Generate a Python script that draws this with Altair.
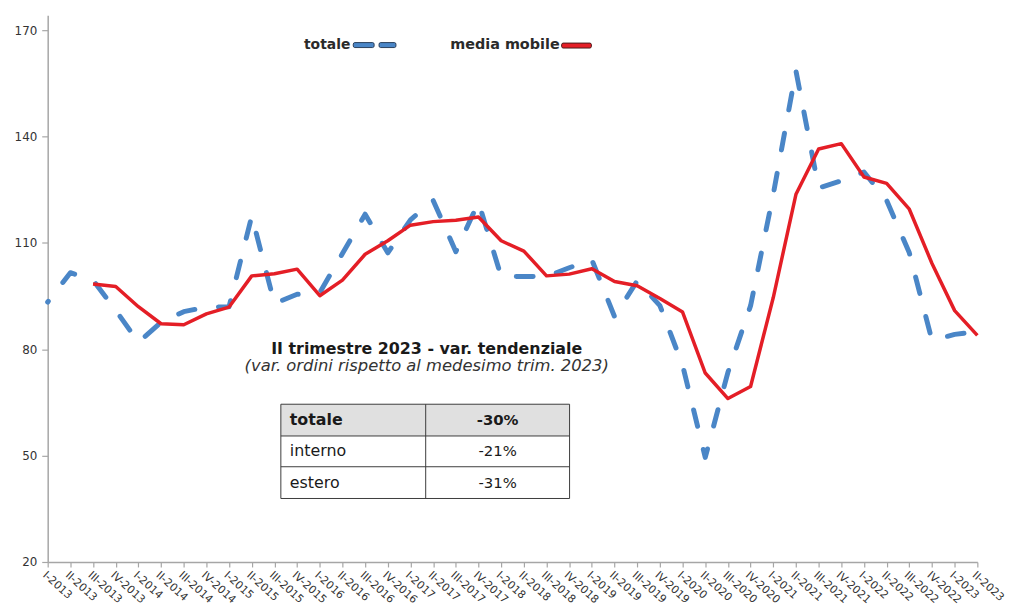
import math
import altair as alt
import pandas as pd

FONT = "DejaVu Sans"

periodi = [
    "I-2013", "II-2013", "III-2013", "IV-2013",
    "I-2014", "II-2014", "III-2014", "IV-2014",
    "I-2015", "II-2015", "III-2015", "IV-2015",
    "I-2016", "II-2016", "III-2016", "IV-2016",
    "I-2017", "II-2017", "III-2017", "IV-2017",
    "I-2018", "II-2018", "III-2018", "IV-2018",
    "I-2019", "II-2019", "III-2019", "IV-2019",
    "I-2020", "II-2020", "III-2020", "IV-2020",
    "I-2021", "II-2021", "III-2021", "IV-2021",
    "I-2022", "II-2022", "III-2022", "IV-2022",
    "I-2023", "II-2023",
]

totale = [
    93.3, 101.6, 99.5, 91.0,
    82.0, 87.6, 90.6, 91.9,
    92.0, 117.6, 92.9, 95.5,
    96.0, 107.0, 118.1, 107.2,
    116.5, 122.0, 107.5, 121.5,
    100.5, 100.5, 100.5, 103.0,
    105.2, 89.2, 99.3, 92.3,
    75.5, 49.5, 73.5, 92.3,
    123.7, 158.5, 125.5, 127.5,
    130.0, 122.0, 107.2, 82.5,
    84.2, 85.0,
]

media_mobile = [
    None, None, 98.4, 97.7,
    92.0, 87.2, 86.9, 90.0,
    91.9, 100.7, 101.3, 102.6,
    95.1, 99.5, 106.8, 110.6,
    115.0, 116.0, 116.4, 117.3,
    110.6, 107.7, 100.7, 101.2,
    102.7, 99.1, 97.9, 94.3,
    90.5, 73.3, 66.1, 69.5,
    94.6, 123.7, 136.5, 138.0,
    128.6, 126.8, 119.5, 104.2,
    90.9, 83.9,
]

y_ticks = [20, 50, 80, 110, 140, 170]

legenda = ["totale", "media mobile"]
titolo_tabella = "II trimestre 2023 - var. tendenziale"
sottotitolo_tabella = "(var. ordini rispetto al medesimo trim. 2023)"
tabella_voci = ["totale", "interno", "estero"]
tabella_valori = ["-30%", "-21%", "-31%"]

BLUE = "#4a86c7"
RED = "#e41e26"
AXIS_GREY = "#a6a6a6"
TEXT = "#333333"

W, H = 937, 551
Y_MIN, Y_MAX = 20, 174.2

# dash pattern of the "totale" line; offset chosen so that dashes sit on the main turning points
DASH, GAP = 17, 24
PERIOD = DASH + GAP
dx = W / (len(periodi) - 1)
dy = H / (Y_MAX - Y_MIN)
cum = [0.0]
for a, b in zip(totale[:-1], totale[1:]):
    cum.append(cum[-1] + math.hypot(dx, (b - a) * dy))
keys = {33: 3.0, 29: 2.0, 9: 1.0, 17: 0.5, 19: 0.5}
best_o, best_c = 0, 1e9
for o in range(PERIOD):
    c = 0.0
    for k, wgt in keys.items():
        p = (cum[k] + o) % PERIOD
        d = abs(p - DASH / 2)
        d = min(d, PERIOD - d)
        c += wgt * d
    if c < best_c:
        best_o, best_c = o, c

df = pd.DataFrame({"periodo": periodi, "totale": totale, "media": media_mobile})

x_enc = alt.X(
    "periodo:N",
    sort=periodi,
    scale=alt.Scale(type="point", padding=0),
    axis=alt.Axis(
        title=None,
        labelAngle=42,
        labelAlign="left",
        labelBaseline="top",
        labelFont=FONT,
        labelFontSize=11,
        labelColor=TEXT,
        labelOverlap=False,
        labelPadding=2,
        tickSize=5,
        tickColor=AXIS_GREY,
        tickWidth=1.2,
        domainColor=AXIS_GREY,
        domainWidth=1.5,
        grid=False,
    ),
)

y_scale = alt.Scale(domain=[Y_MIN, Y_MAX], nice=False, zero=False)
y_axis = alt.Axis(
    title=None,
    values=y_ticks,
    labelFont=FONT,
    labelFontSize=12,
    labelColor=TEXT,
    labelPadding=5,
    tickSize=6,
    tickColor=AXIS_GREY,
    tickWidth=1.2,
    domainColor=AXIS_GREY,
    domainWidth=1.5,
    grid=False,
)

base = alt.Chart(df)

line_tot = base.mark_line(
    color=BLUE, strokeWidth=5, strokeDash=[DASH, GAP], strokeDashOffset=-best_o,
    strokeCap="round", strokeJoin="round"
).encode(x=x_enc, y=alt.Y("totale:Q", scale=y_scale, axis=y_axis))

line_mm = base.mark_line(color=RED, strokeWidth=3.5, strokeJoin="round").encode(
    x=x_enc, y=alt.Y("media:Q", scale=y_scale, axis=y_axis)
)

one = pd.DataFrame({"k": [0]})


def txt(s, x, y, size=14, weight="normal", style="normal", align="left", color=TEXT):
    return alt.Chart(pd.DataFrame({"t": [s]})).mark_text(
        font=FONT, fontSize=size, fontWeight=weight, fontStyle=style,
        align=align, baseline="middle", color=color,
    ).encode(x=alt.value(x), y=alt.value(y), text="t:N")


def box(x1, x2, y1, y2, fill, stroke=None, sw=1, radius=0):
    kw = dict(fill=fill, cornerRadius=radius)
    if stroke:
        kw.update(stroke=stroke, strokeWidth=sw)
    else:
        kw.update(strokeWidth=0)
    return alt.Chart(one).mark_rect(**kw).encode(
        x=alt.value(x1), x2=alt.value(x2), y=alt.value(y1), y2=alt.value(y2)
    )


def hline(x1, x2, y, color="#3c3c3c", sw=1):
    return alt.Chart(one).mark_rule(color=color, strokeWidth=sw).encode(
        x=alt.value(x1), x2=alt.value(x2), y=alt.value(y)
    )


def vline(x, y1, y2, color="#3c3c3c", sw=1):
    return alt.Chart(one).mark_rule(color=color, strokeWidth=sw).encode(
        x=alt.value(x), y=alt.value(y1), y2=alt.value(y2)
    )


# legend (top)
leg = [
    txt(legenda[0], 305, 30, size=14, weight="bold", align="right", color="#2a2a2a"),
    box(308, 329, 27.5, 32.5, BLUE, stroke="#2a3f5a", sw=1, radius=1.5),
    box(334, 351, 27.5, 32.5, BLUE, stroke="#2a3f5a", sw=1, radius=1.5),
    txt(legenda[1], 516, 30, size=14.5, weight="bold", align="right", color="#2a2a2a"),
    box(518, 548, 28, 33, RED, stroke="#4a1a1a", sw=1, radius=1.5),
]

# table
TL, TR, TM = 235, 526, 381
rows_y = [392, 424, 455, 487]
tab = [
    txt(titolo_tabella, 382, 336, size=16, weight="bold", align="center", color="#1a1a1a"),
    txt(sottotitolo_tabella, 382, 354, size=16.5, style="italic", align="center", color="#333333"),
    box(TL, TR, rows_y[0], rows_y[1], "#e0e0e0"),
    hline(TL, TR, rows_y[0]),
    hline(TL, TR, rows_y[1]),
    hline(TL, TR, rows_y[2]),
    hline(TL, TR, rows_y[3]),
    vline(TL, rows_y[0], rows_y[3]),
    vline(TM, rows_y[0], rows_y[3]),
    vline(TR, rows_y[0], rows_y[3]),
]
for i in range(3):
    cy = (rows_y[i] + rows_y[i + 1]) / 2
    w = "bold" if i == 0 else "normal"
    tab.append(txt(tabella_voci[i], 244, cy, size=16, weight=w, align="left", color="#1a1a1a"))
    tab.append(txt(tabella_valori[i], (TM + TR) / 2, cy, size=15, weight=w, align="center", color="#1a1a1a"))

chart = alt.layer(line_tot, line_mm, *leg, *tab).properties(
    width=W,
    height=H,
    padding={"left": 40, "top": 5, "right": 44, "bottom": 42},
    autosize=alt.AutoSizeParams(type="none"),
    background="white",
).configure_view(stroke=None)

chart.save("out.html", embed_options={"renderer": "svg", "actions": False})
